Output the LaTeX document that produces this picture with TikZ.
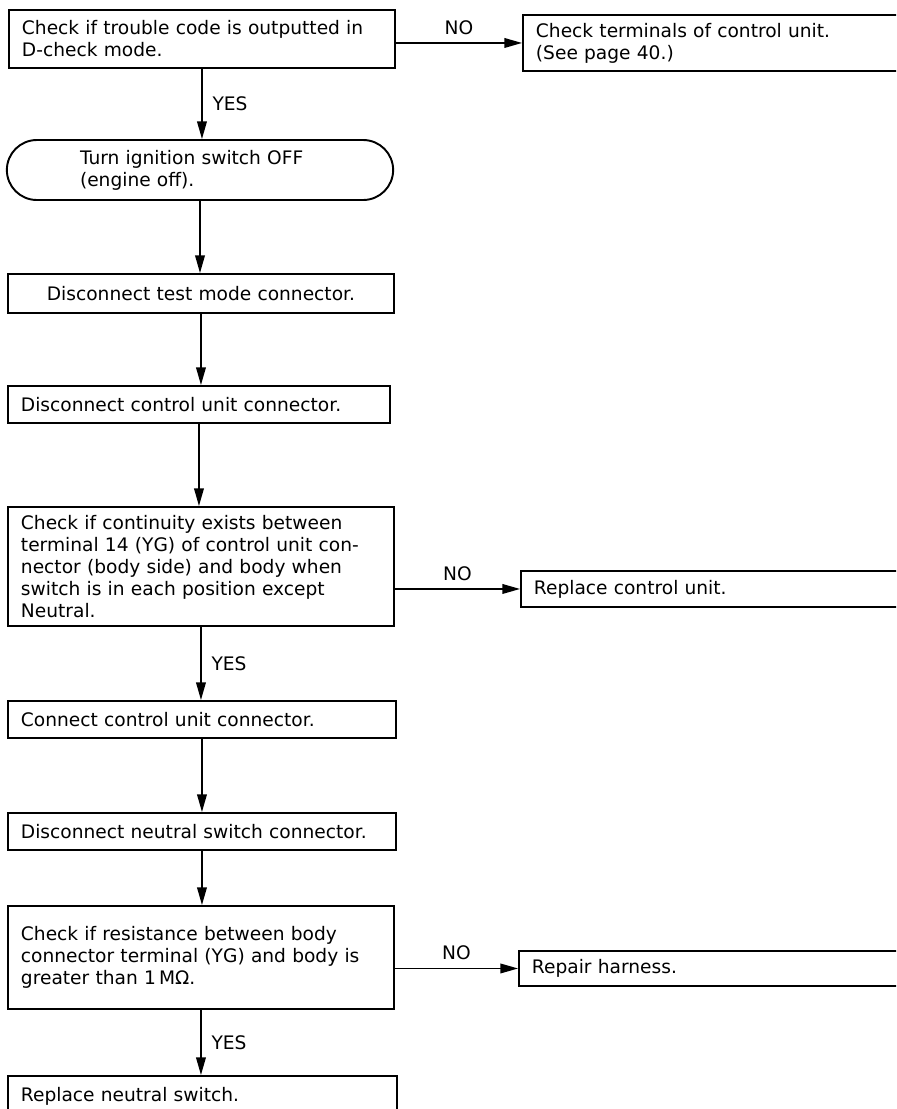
\documentclass[tikz,border=0pt]{standalone}
\usepackage{fontspec}
\setmainfont{DejaVu Sans}
\usepackage{tikz}
\usetikzlibrary{arrows.meta,shapes.misc}
\newlength{\pxl}
\setlength{\pxl}{0.02cm}
\tikzset{
  stepbox/.style={rectangle, draw=black, line width=1.1pt, anchor=north west,
                  inner xsep=13\pxl, inner ysep=0pt, align=left,
                  text width=#1, font=\fontsize{10.6}{12.5}\selectfont},
  termbox/.style={rounded rectangle, draw=black, line width=1.1pt,
                  align=left, text width=240\pxl, font=\fontsize{10.6}{12.5}\selectfont},
  arr/.style={-{Triangle[length=10pt,width=5.5pt]}, line width=0.8pt, draw=black},
  lbl/.style={font=\fontsize{10.6}{12.5}\selectfont},
}

\begin{document}
\begin{tikzpicture}[x=0.02cm, y=-0.02cm]
  \useasboundingbox (0,0) rectangle (896,1109);
  \clip (0,0) rectangle (896,1109);
  % main column
  \node[stepbox=360\pxl, minimum height=58\pxl] (dcheck) at (8,9)
    {Check if trouble code is outputted in\\D-check mode.};
  \node[termbox, minimum width=398\pxl, minimum height=60\pxl] (ignoff) at (200,170)
    {Turn ignition switch OFF\\(engine off).};
  \node[stepbox=360\pxl, minimum height=39\pxl, align=center] (testconn) at (7,273)
    {Disconnect test mode connector.};
  \node[stepbox=356\pxl, minimum height=37\pxl] (cuconn) at (7,385)
    {Disconnect control unit connector.};
  \node[stepbox=360\pxl, minimum height=119\pxl] (contin) at (7,506)
    {Check if continuity exists between\\terminal 14 (YG) of control unit con-\\nector (body side) and body when\\switch is in each position except\\Neutral.};
  \node[stepbox=362\pxl, minimum height=37\pxl] (conncu) at (7,700)
    {Connect control unit connector.};
  \node[stepbox=362\pxl, minimum height=37\pxl] (nsconn) at (7,812)
    {Disconnect neutral switch connector.};
  \node[stepbox=360\pxl, minimum height=103\pxl] (resist) at (7,905)
    {Check if resistance between body\\connector terminal (YG) and body is\\greater than 1\,MΩ.};
  \node[stepbox=363\pxl, minimum height=40\pxl] (repns) at (7,1075)
    {Replace neutral switch.};
  % NO branches
  \node[stepbox=400\pxl, minimum height=56\pxl] (terms) at (522,14)
    {Check terminals of control unit.\\(See page 40.)};
  \node[stepbox=400\pxl, minimum height=36\pxl] (repcu) at (520,570)
    {Replace control unit.};
  \node[stepbox=400\pxl, minimum height=35\pxl] (harness) at (518,950)
    {Repair harness.};
  % connectors
  \draw[arr] (dcheck.south) -- node[lbl, right=4\pxl] (yes1) {YES} (dcheck.south |- ignoff.north);
  \draw[arr] (ignoff.south) -- (ignoff.south |- testconn.north);
  \draw[arr] (testconn.south) -- (testconn.south |- cuconn.north);
  \draw[arr] (cuconn.south) -- (cuconn.south |- contin.north);
  \draw[arr] (contin.south) -- node[lbl, right=4\pxl] (yes2) {YES} (contin.south |- conncu.north);
  \draw[arr] (conncu.south) -- (conncu.south |- nsconn.north);
  \draw[arr] (nsconn.south) -- (nsconn.south |- resist.north);
  \draw[arr] (resist.south) -- node[lbl, right=4\pxl] (yes3) {YES} (resist.south |- repns.north);
  \draw[arr] (terms.west -| dcheck.east) -- node[lbl, above=2\pxl] (no1) {NO} (terms.west);
  \draw[arr] (repcu.west -| contin.east) -- node[lbl, above=2\pxl] (no2) {NO} (repcu.west);
  \draw[arr] (harness.west -| resist.east) -- node[lbl, above=2\pxl] (no3) {NO} (harness.west);
\end{tikzpicture}
\end{document}
